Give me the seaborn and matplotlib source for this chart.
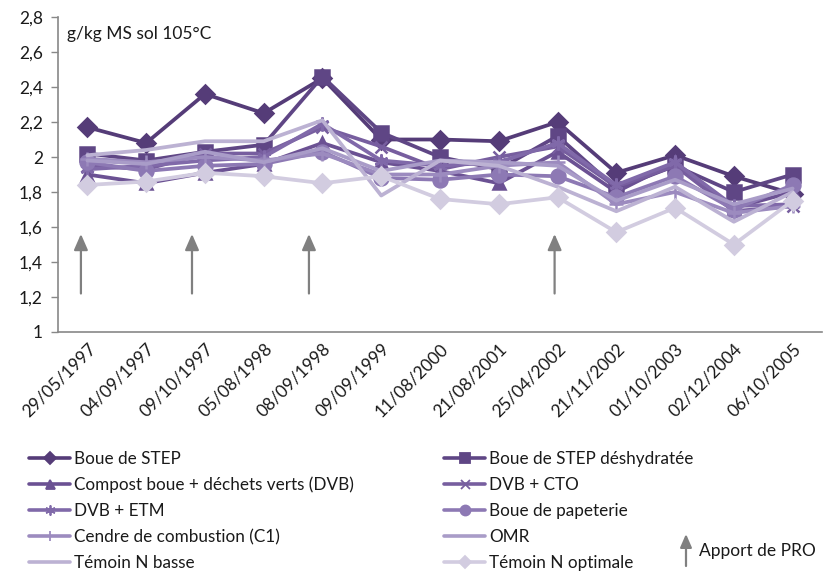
import matplotlib
matplotlib.use("Agg")
import matplotlib.pyplot as plt
from matplotlib.lines import Line2D
from matplotlib.ticker import FixedLocator, FuncFormatter
import seaborn as sns

# Sampling dates
dates = ["29/05/1997", "04/09/1997", "09/10/1997", "05/08/1998", "08/09/1998",
         "09/09/1999", "11/08/2000", "21/08/2001", "25/04/2002", "21/11/2002",
         "01/10/2003", "02/12/2004", "06/10/2005"]

# Soil content (g/kg MS sol 105°C) per treatment
boue_step = [2.17, 2.08, 2.36, 2.25, 2.45, 2.10, 2.10, 2.09, 2.20, 1.91, 2.01, 1.89, 1.79]
boue_step_deshy = [2.02, 1.98, 2.03, 2.07, 2.46, 2.14, 2.00, 1.93, 2.12, 1.82, 1.95, 1.80, 1.90]
compost_dvb = [1.90, 1.85, 1.91, 1.96, 2.08, 1.97, 1.92, 1.85, 2.03, 1.80, 1.97, 1.71, 1.80]
dvb_cto = [1.95, 1.93, 2.02, 2.02, 2.17, 2.06, 1.93, 2.00, 2.06, 1.83, 1.95, 1.69, 1.72]
dvb_etm = [1.93, 1.95, 1.98, 2.00, 2.19, 1.98, 1.95, 1.97, 2.08, 1.84, 1.97, 1.72, 1.73]
boue_papeterie = [1.97, 1.92, 1.95, 1.96, 2.03, 1.88, 1.87, 1.90, 1.89, 1.77, 1.89, 1.70, 1.84]
cendre_c1 = [1.99, 1.97, 2.00, 1.98, 2.02, 1.90, 1.90, 1.95, 1.97, 1.73, 1.80, 1.68, 1.72]
omr = [1.98, 1.96, 2.03, 1.97, 2.05, 1.92, 1.98, 1.97, 1.95, 1.75, 1.87, 1.73, 1.82]
temoin_n_basse = [2.01, 2.04, 2.09, 2.09, 2.21, 1.78, 1.98, 1.95, 1.83, 1.69, 1.83, 1.63, 1.80]
temoin_n_optimale = [1.84, 1.86, 1.91, 1.89, 1.85, 1.89, 1.76, 1.73, 1.77, 1.57, 1.71, 1.50, 1.75]

series_names = ["Boue de STEP", "Boue de STEP déshydratée",
                "Compost boue + déchets verts (DVB)", "DVB + CTO",
                "DVB + ETM", "Boue de papeterie",
                "Cendre de combustion (C1)", "OMR",
                "Témoin N basse", "Témoin N optimale"]
series_values = [boue_step, boue_step_deshy, compost_dvb, dvb_cto, dvb_etm,
                 boue_papeterie, cendre_c1, omr, temoin_n_basse, temoin_n_optimale]

# PRO application events (position along the date axis)
apport_pos = [-0.11, 1.78, 3.77, 7.95]
apport_from, apport_to = 1.22, 1.56

colors = ["#553c78", "#5f4685", "#6b5193", "#775e9f", "#8069a9",
          "#8d79b4", "#9c8bbf", "#a99cc8", "#bcb2d3", "#d2cce0"]
markers = ["D", "s", "^", "x", (6, 2, 0), "o", "+", None, None, "D"]
msizes = [9, 10, 9, 9, 10, 10, 10, 0, 0, 9]

sns.set_theme(style="white")
plt.rcParams["font.family"] = ["Lato", "DejaVu Sans"]

fig = plt.figure(figsize=(8.23, 5.71), dpi=100)
ax = fig.add_axes([58 / 823, 1 - 332 / 571, 764 / 823, 315 / 571])

x = list(range(len(dates)))
for name, vals, c, m, ms in zip(series_names, series_values, colors, markers, msizes):
    kw = dict(color=c, linewidth=2.7, ax=ax, legend=False)
    if m is not None:
        kw.update(marker=m, markersize=ms, markeredgecolor=c, markerfacecolor=c,
                  markeredgewidth=1.8)
    sns.lineplot(x=x, y=vals, **kw)

for p in apport_pos:
    ax.annotate("", xy=(p, apport_to), xytext=(p, apport_from),
                arrowprops=dict(arrowstyle="-|>,head_width=0.35,head_length=0.8",
                                color="#808080", lw=1.6, shrinkA=0, shrinkB=0))

ax.set_xlim(-0.5, len(dates) - 0.5)
ax.set_ylim(1, 2.8)
ax.set_yticks([1 + 0.2 * i for i in range(10)])
ax.yaxis.set_major_formatter(FuncFormatter(lambda v, _: f"{v:.1f}".replace(".", ",").replace(",0", "")))
ax.set_xticks(x)
ax.set_xticklabels(dates, rotation=45, ha="right", rotation_mode="anchor", fontsize=12.5,
                   color="#1a1a1a")
ax.xaxis.set_minor_locator(FixedLocator([i - 0.5 for i in range(len(dates) + 1)]))
ax.tick_params(axis="x", which="major", length=0, pad=6)
ax.tick_params(axis="x", which="minor", length=5, color="#888888", width=1)
ax.tick_params(axis="y", which="major", length=5, color="#888888", width=1,
               labelsize=12.5, labelcolor="#1a1a1a", pad=6, left=True)
for s in ["top", "right"]:
    ax.spines[s].set_visible(False)
for s in ["left", "bottom"]:
    ax.spines[s].set_color("#888888")
    ax.spines[s].set_linewidth(1.2)

ax.text(0.012, 0.945, "g/kg MS sol 105°C", transform=ax.transAxes, fontsize=12.5,
        color="#1a1a1a", va="center", ha="left")

# Legend, two columns
handles = []
for name, c, m, ms in zip(series_names, colors, markers, msizes):
    h = Line2D([], [], color=c, linewidth=2.6, marker=m if m is not None else None,
               markersize=ms * 0.72, markerfacecolor=c, markeredgecolor=c,
               markeredgewidth=1.3, label=name)
    handles.append(h)

leg_kw = dict(frameon=False, fontsize=12.3, handlelength=2.4, handletextpad=0.25,
              labelspacing=0.58, borderaxespad=0, borderpad=0)
leg1 = fig.legend(handles=handles[0::2], loc="upper left",
                  bbox_to_anchor=(29 / 823, 1 - 451 / 571), **leg_kw)
leg2 = fig.legend(handles=handles[1::2], loc="upper left",
                  bbox_to_anchor=(444 / 823, 1 - 451 / 571), **leg_kw)
for leg in (leg1, leg2):
    for t in leg.get_texts():
        t.set_color("#1a1a1a")

fig.add_artist(matplotlib.patches.FancyArrowPatch(
    (686 / 823, 1 - 566 / 571), (686 / 823, 1 - 534 / 571), transform=fig.transFigure,
    arrowstyle="-|>,head_width=3.5,head_length=8", color="#808080", lw=1.6,
    shrinkA=0, shrinkB=0))
fig.text(699 / 823, 1 - 551 / 571, "Apport de PRO", fontsize=12.5, color="#1a1a1a",
         va="center", ha="left")

fig.savefig("out.png", dpi=100)
